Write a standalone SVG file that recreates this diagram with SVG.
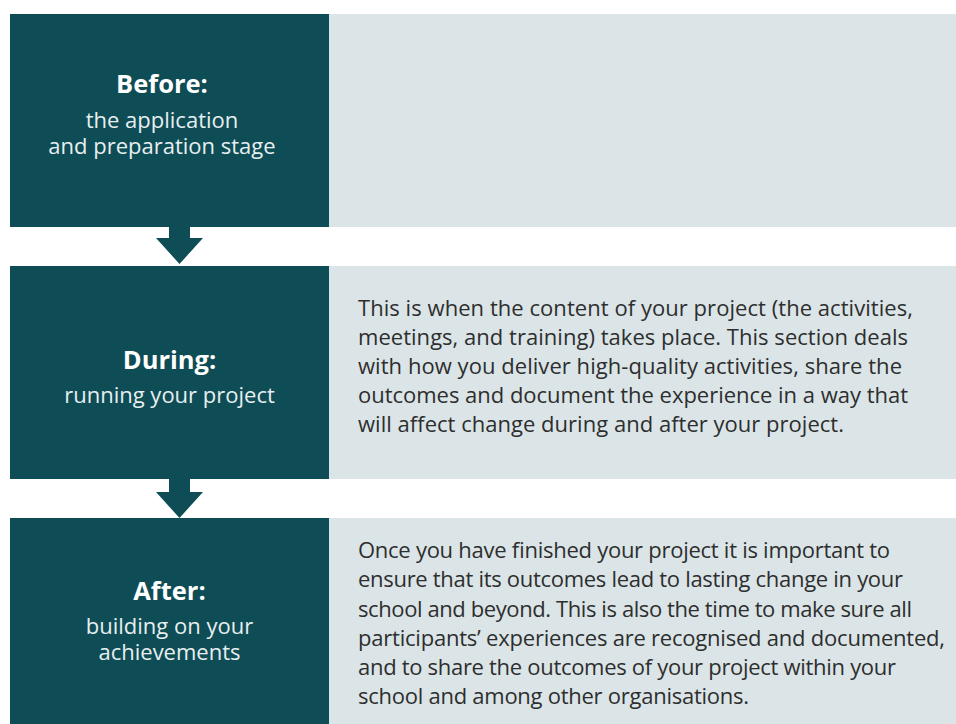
<svg xmlns="http://www.w3.org/2000/svg" width="956" height="724" viewBox="0 0 956 724">
<style>
.dark{fill:#0e4c56}
.light{fill:#dbe5e7}
.ttl{font-family:"Open Sans","Noto Sans",sans-serif;font-weight:700;font-size:25.5px;fill:#ffffff;text-anchor:middle}
.sub{font-family:"Open Sans","Noto Sans",sans-serif;font-size:22px;fill:#e8eff0;text-anchor:middle}
.body{font-family:"Open Sans","Noto Sans",sans-serif;font-size:22px;fill:#2e2e2e}
</style>
<rect width="956" height="724" fill="#ffffff"/>
<g id="before">
<rect class="dark" x="10" y="14" width="319" height="213"/>
<rect class="light" x="329" y="14" width="627" height="213"/>
<text class="ttl" x="162" y="93">Before:</text>
<text class="sub" x="162" y="128">the application</text>
<text class="sub" x="162" y="154">and preparation stage</text>
</g>
<g id="during">
<rect class="dark" x="10" y="266" width="319" height="213"/>
<rect class="light" x="329" y="266" width="627" height="213"/>
<text class="ttl" x="169.5" y="369">During:</text>
<text class="sub" x="169.5" y="403">running your project</text>
<text class="body" x="358" y="316" textLength="555" lengthAdjust="spacing">This is when the content of your project (the activities,</text>
<text class="body" x="358" y="345" textLength="550" lengthAdjust="spacing">meetings, and training) takes place. This section deals</text>
<text class="body" x="358" y="374" textLength="544" lengthAdjust="spacing">with how you deliver high-quality activities, share the</text>
<text class="body" x="358" y="403" textLength="550" lengthAdjust="spacing">outcomes and document the experience in a way that</text>
<text class="body" x="358" y="432" textLength="486" lengthAdjust="spacing">will affect change during and after your project.</text>
</g>
<g id="after">
<rect class="dark" x="10" y="518" width="319" height="206"/>
<rect class="light" x="329" y="518" width="627" height="206"/>
<text class="ttl" x="169.5" y="600">After:</text>
<text class="sub" x="169.5" y="634">building on your</text>
<text class="sub" x="169.5" y="660">achievements</text>
<text class="body" x="358" y="558" textLength="532" lengthAdjust="spacing">Once you have finished your project it is important to</text>
<text class="body" x="358" y="587" textLength="545" lengthAdjust="spacing">ensure that its outcomes lead to lasting change in your</text>
<text class="body" x="358" y="617" textLength="554" lengthAdjust="spacing">school and beyond. This is also the time to make sure all</text>
<text class="body" x="358" y="646" textLength="587" lengthAdjust="spacing">participants’ experiences are recognised and documented,</text>
<text class="body" x="358" y="675" textLength="538" lengthAdjust="spacing">and to share the outcomes of your project within your</text>
<text class="body" x="358" y="704" textLength="391" lengthAdjust="spacing">school and among other organisations.</text>
</g>
<g id="connectors">
<polygon class="dark" points="169,227 190,227 190,238 203,238 179.5,264 156,238 169,238"/>
<polygon class="dark" points="169,479 190,479 190,492 203,492 179.5,518 156,492 169,492"/>
</g>
</svg>
